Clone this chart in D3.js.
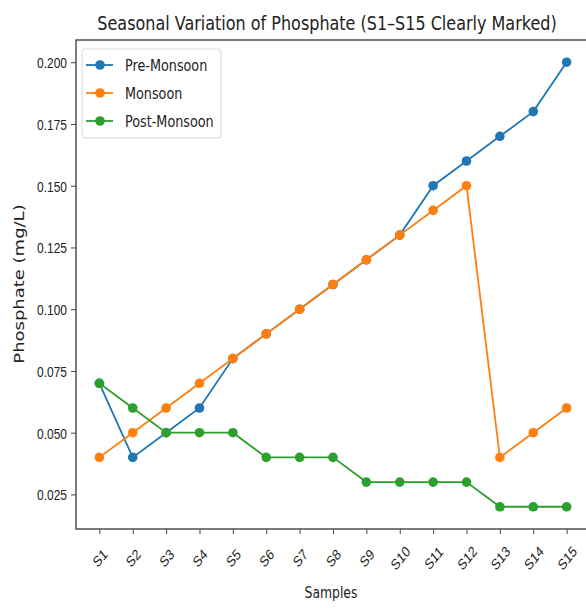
<!DOCTYPE html>
<html>
<head>
<meta charset="utf-8">
<script src="https://cdn.jsdelivr.net/npm/d3@7"></script>
<style>
  html, body { margin: 0; padding: 0; background: #fff; }
  svg { display: block; font-family: "DejaVu Sans", sans-serif; }
</style>
</head>
<body>
<svg id="chart" width="586" height="608"></svg>
<script>
// Phosphate concentration (mg/L) by sample, one list per season
const samples = ["S1","S2","S3","S4","S5","S6","S7","S8","S9","S10","S11","S12","S13","S14","S15"];
const preMonsoon  = [0.07, 0.04, 0.05, 0.06, 0.08, 0.09, 0.10, 0.11, 0.12, 0.13, 0.15, 0.16, 0.17, 0.18, 0.20];
const monsoon     = [0.04, 0.05, 0.06, 0.07, 0.08, 0.09, 0.10, 0.11, 0.12, 0.13, 0.14, 0.15, 0.04, 0.05, 0.06];
const postMonsoon = [0.07, 0.06, 0.05, 0.05, 0.05, 0.04, 0.04, 0.04, 0.03, 0.03, 0.03, 0.03, 0.02, 0.02, 0.02];
const yTicks = [0.025, 0.050, 0.075, 0.100, 0.125, 0.150, 0.175, 0.200];

const seriesNames  = ["Pre-Monsoon", "Monsoon", "Post-Monsoon"];
const seriesColors = ["#1f77b4", "#ff7f0e", "#2ca02c"];
const series = [preMonsoon, monsoon, postMonsoon].map((values, i) => ({
  name: seriesNames[i], color: seriesColors[i], values
}));

// text is drawn narrow: horizontal squeeze applied to every label
const SQ = 0.8;
const ink = "#222";

const svg = d3.select("#chart");
const plot = { left: 76, right: 590, top: 40, bottom: 529 };

// x: sample index with 5% padding on each side
const n = samples.length;
const xPad = (n - 1) * 0.05;
const x = d3.scaleLinear().domain([-xPad, n - 1 + xPad]).range([plot.left, plot.right]);

// y: data extent with 5% padding
const all = series.flatMap(s => s.values);
const yMin = d3.min(all), yMax = d3.max(all);
const yPad = (yMax - yMin) * 0.05;
const y = d3.scaleLinear().domain([yMin - yPad, yMax + yPad]).range([plot.bottom, plot.top]);

// frame
svg.append("rect")
  .attr("x", plot.left).attr("y", plot.top)
  .attr("width", plot.right - plot.left).attr("height", plot.bottom - plot.top)
  .attr("fill", "none").attr("stroke", "#444").attr("stroke-width", 1.4);

// y axis
const yAxis = svg.append("g")
  .attr("transform", `translate(${plot.left},0)`)
  .call(d3.axisLeft(y).tickValues(yTicks).tickFormat(d3.format(".3f")).tickSize(5));
yAxis.select(".domain").remove();
yAxis.selectAll("line").attr("stroke", "#444");
yAxis.selectAll("text")
  .attr("x", null).attr("dy", "0.36em")
  .attr("text-anchor", "end")
  .attr("transform", `translate(-9,0) scale(${SQ},1)`)
  .attr("font-size", 15).attr("fill", ink);

// x axis with rotated sample labels
const xAxis = svg.append("g")
  .attr("transform", `translate(0,${plot.bottom})`)
  .call(d3.axisBottom(x).tickValues(d3.range(n)).tickFormat(i => samples[i]).tickSize(5));
xAxis.select(".domain").remove();
xAxis.selectAll("line").attr("stroke", "#444");
xAxis.selectAll("text")
  .attr("font-size", 15).attr("fill", ink)
  .attr("text-anchor", "middle")
  .attr("dy", "0.36em")
  .attr("y", 0)
  .attr("transform", `translate(0,29) scale(${SQ},1) rotate(-45)`);

// axis titles
svg.append("text")
  .attr("transform", `translate(331,598) scale(${SQ},1)`)
  .attr("text-anchor", "middle")
  .attr("font-size", 15.5).attr("fill", ink)
  .text("Samples");

svg.append("text")
  .attr("transform", `translate(19,284) scale(${SQ},1) rotate(-90)`)
  .attr("dy", "0.36em")
  .attr("text-anchor", "middle")
  .attr("font-size", 18).attr("fill", ink)
  .text("Phosphate (mg/L)");

// title
svg.append("text")
  .attr("transform", `translate(327,30) scale(${SQ},1)`)
  .attr("text-anchor", "middle")
  .attr("font-size", 20).attr("fill", ink)
  .text("Seasonal Variation of Phosphate (S1\u2013S15 Clearly Marked)");

// series lines and markers
const line = d3.line().x((d, i) => x(i)).y(d => y(d));
const g = svg.append("g");
series.forEach(s => {
  g.append("path")
    .datum(s.values)
    .attr("d", line)
    .attr("fill", "none")
    .attr("stroke", s.color)
    .attr("stroke-width", 1.8);
  g.selectAll(null)
    .data(s.values)
    .join("circle")
    .attr("cx", (d, i) => x(i))
    .attr("cy", d => y(d))
    .attr("r", 4.8)
    .attr("fill", s.color);
});

// legend
const legend = svg.append("g").attr("transform", "translate(82,49)");
legend.append("rect")
  .attr("width", 139).attr("height", 89)
  .attr("rx", 3)
  .attr("fill", "#fff").attr("fill-opacity", 0.85)
  .attr("stroke", "#d6d6d6");
series.forEach((s, i) => {
  const row = legend.append("g").attr("transform", `translate(0,${16 + i * 28})`);
  row.append("line").attr("x1", 4).attr("x2", 31).attr("stroke", s.color).attr("stroke-width", 1.8);
  row.append("circle").attr("cx", 18).attr("r", 4.8).attr("fill", s.color);
  row.append("text")
    .attr("transform", `translate(43,0) scale(${SQ},1)`)
    .attr("dy", "0.36em")
    .attr("font-size", 16).attr("fill", ink)
    .text(s.name);
});
</script>
</body>
</html>
